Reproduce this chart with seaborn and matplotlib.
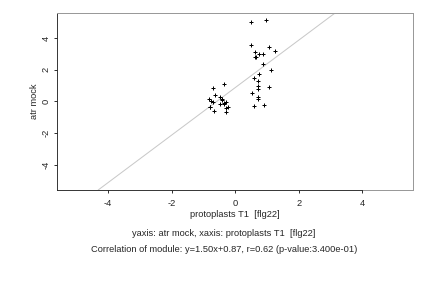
import matplotlib
matplotlib.use("Agg")
import matplotlib.pyplot as plt
import matplotlib.patches as mpatches
import seaborn as sns
import pandas as pd

# valeurs
x_vals = [0.50, 0.97, 0.51, 1.05, 1.24, 0.61, 0.74, 0.87, 0.61, 0.64, 0.87,
          1.11, 0.59, 0.76, 0.70, 0.70, 0.71, 1.05, 0.54, 0.70, 0.70, 0.58, 0.89,
          -0.34, -0.71, -0.65, -0.49, -0.84, -0.75, -0.41, -0.71, -0.49, -0.34,
          -0.28, -0.36, -0.24, -0.81, -0.30, -0.68, -0.29, -0.42, -0.79]
y_vals = [5.02, 5.14, 3.57, 3.45, 3.19, 3.09, 2.96, 3.00, 2.79, 2.83, 2.37,
          1.99, 1.50, 1.71, 1.29, 0.97, 0.78, 0.91, 0.53, 0.29, 0.15, -0.30, -0.21,
          1.10, 0.84, 0.40, 0.25, 0.15, 0.04, 0.10, -0.06, -0.15, -0.13,
          -0.03, -0.19, -0.36, -0.34, -0.41, -0.62, -0.68, 0.13, -0.36]
slope = 1.50
intercept = 0.87
ticks = [-4, -2, 0, 2, 4]
lim = 5.6

x_name = "protoplasts T1  [flg22]"
y_name = "atr mock"
line2 = "yaxis: atr mock, xaxis: protoplasts T1  [flg22]"
line3 = "Correlation of module: y=1.50x+0.87, r=0.62 (p-value:3.400e-01)"

df = pd.DataFrame({"x": x_vals, "y": y_vals})

sns.set_style("white")
plt.rcParams['font.family'] = ['Liberation Sans', 'DejaVu Sans']
fs = 9.3

fig = plt.figure(figsize=(6, 4), dpi=72)
ax = fig.add_axes([0.1326, 0.3403, 0.824, 0.6156])

# droite de régression
ax.axline((0, intercept), slope=slope, color="#c8c8c8", lw=1, zorder=1)
sns.scatterplot(data=df, x="x", y="y", marker="+", color="black", s=22,
                linewidth=1, ax=ax, zorder=3)

ax.set_xlim(-lim, lim)
ax.set_ylim(-lim, lim)
ax.set_xticks(ticks)
ax.set_yticks(ticks)
ax.set_xticklabels([str(t) for t in ticks], fontsize=fs)
ax.set_yticklabels([str(t) for t in ticks], fontsize=fs, rotation=90, va="center")
ax.tick_params(axis="both", direction="out", length=3, width=0.8, color="black",
               bottom=True, left=True)
ax.tick_params(axis="x", pad=6)
ax.tick_params(axis="y", pad=4)

# cadre gris + axes noirs façon R
for side in ["top", "right"]:
    ax.spines[side].set_color("#999999")
    ax.spines[side].set_linewidth(1)
ax.add_patch(mpatches.Rectangle((0, 0), 1, 1, transform=ax.transAxes, fill=False,
                                edgecolor="#999999", lw=1, clip_on=False, zorder=0))
ax.spines["bottom"].set_color("#222222")
ax.spines["left"].set_color("#222222")
ax.spines["bottom"].set_bounds(-lim, 4)
ax.spines["left"].set_bounds(-lim, lim)

ax.set_xlabel(x_name, fontsize=fs, labelpad=2)
ax.set_ylabel(y_name, fontsize=fs, labelpad=2)

fig.text(224 / 432, 1 - 233 / 288, line2, ha="center", va="center", fontsize=fs)
fig.text(224 / 432, 1 - 249 / 288, line3, ha="center", va="center", fontsize=fs)

plt.savefig("out.png", dpi=72)
